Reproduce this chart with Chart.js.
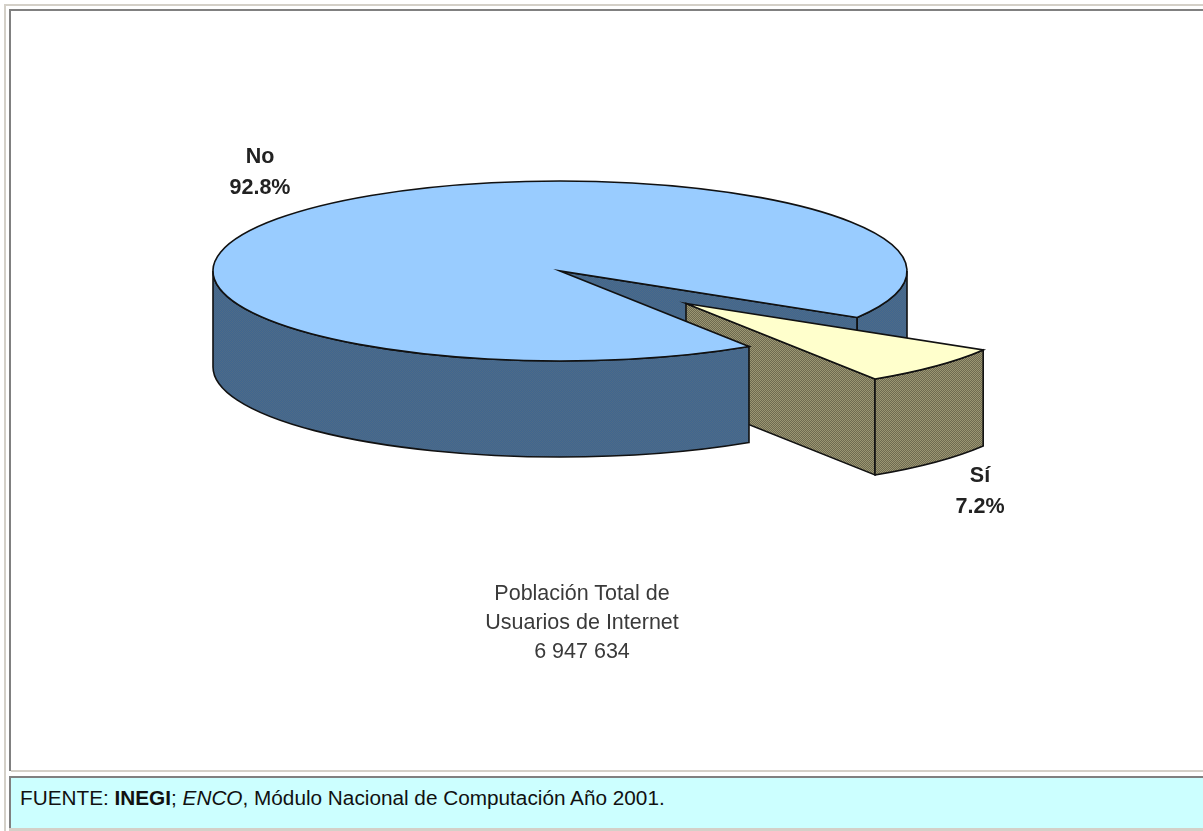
<!DOCTYPE html>
<html>
<head>
<meta charset="utf-8">
<script src="https://cdn.jsdelivr.net/npm/chart.js@4"></script>
<style>
    html, body { margin: 0; padding: 0; background: #fff; overflow: hidden; }
    body { width: 1203px; height: 831px; position: relative; font-family: "Liberation Sans", Arial, sans-serif; }
    .line { position: absolute; }
    #pie { position: absolute; left: 0; top: 0; }
    #caption { position: absolute; left: 432px; width: 300px; top: 579px; text-align: center; font-size: 21.5px; line-height: 29px; color: #3a3a3a; }
    #source { position: absolute; left: 11px; right: 0; top: 778px; height: 50px; background: #ccffff; font-size: 20.75px; line-height: 39px; color: #111; text-indent: 9px; }
</style>
</head>
<body>
<div class="line" style="left:4px;right:0;top:4px;height:2px;background:#d4d0c8"></div>
<div class="line" style="left:4px;top:4px;width:2px;bottom:0;background:#d4d0c8"></div>
<div class="line" style="left:9px;right:0;top:9px;height:2px;background:#808080"></div>
<div class="line" style="left:9px;top:9px;width:2px;height:762px;background:#808080"></div>
<div class="line" style="left:11px;right:0;top:770px;height:2px;background:#d4d0c8"></div>
<div class="line" style="left:9px;right:0;top:776px;height:2px;background:#808080"></div>
<div class="line" style="left:9px;top:776px;width:2px;height:52px;background:#808080"></div>
<div class="line" style="left:9px;right:0;top:828px;height:3px;background:#d4d0c8"></div>
<canvas id="pie" width="1203" height="831"></canvas>
<div id="caption">Población Total de<br>Usuarios de Internet<br>6 947 634</div>
<div id="source">FUENTE: <b>INEGI</b>; <i>ENCO</i>, Módulo Nacional de Computación Año 2001.</div>
<script>
const labels = ['No', 'Sí'];
const values = [92.8, 7.2];
const topColors = ['#99ccff', '#ffffcc'];

// how far each slice is pulled out of the pie, before flattening
const pullX = [0, 126];
const pullY = [0, 125];

const flatten = 0.2594;   // pie is drawn as an ellipse
const depth = 96;         // wall height in px
const labelX = [260, 980];
const labelY = [157, 476];

function dither(c1, c2) {
    const c = document.createElement('canvas');
    c.width = c.height = 2;
    const g = c.getContext('2d');
    g.fillStyle = c1;
    g.fillRect(0, 0, 2, 2);
    g.fillStyle = c2;
    g.fillRect(0, 0, 1, 1);
    g.fillRect(1, 1, 1, 1);
    return c;
}

const wallTextures = [dither('#3f6690', '#4f6b86'), dither('#6e6a50', '#9b9672')];

function squash(chart) {
    const ctx = chart.ctx;
    const cy = (chart.chartArea.top + chart.chartArea.bottom) / 2;
    ctx.translate(0, cy);
    ctx.scale(1, flatten);
    ctx.translate(0, -cy);
}

// Builds a path inside the flattened space, then strokes in normal space so lines stay 1px wide
function flatPath(chart, build) {
    const ctx = chart.ctx;
    ctx.save();
    squash(chart);
    ctx.beginPath();
    build(ctx);
    ctx.restore();
}

function paint(chart, i) {
    const ctx = chart.ctx;
    ctx.fillStyle = ctx.createPattern(wallTextures[i], 'repeat');
    ctx.fill();
    ctx.lineWidth = 1.6;
    ctx.strokeStyle = '#111';
    ctx.stroke();
}

function rimWall(chart, i, from, to) {
    const a = chart.getDatasetMeta(0).data[i];
    const d = depth / flatten;
    flatPath(chart, p => {
        p.arc(a.x, a.y, a.outerRadius, from, to);
        p.arc(a.x, a.y + d, a.outerRadius, to, from, true);
        p.closePath();
    });
    paint(chart, i);
}

function cutWall(chart, i, angle) {
    const a = chart.getDatasetMeta(0).data[i];
    const d = depth / flatten;
    const ex = a.x + Math.cos(angle) * a.outerRadius;
    const ey = a.y + Math.sin(angle) * a.outerRadius;
    flatPath(chart, p => {
        p.moveTo(a.x, a.y);
        p.lineTo(ex, ey);
        p.lineTo(ex, ey + d);
        p.lineTo(a.x, a.y + d);
        p.closePath();
    });
    paint(chart, i);
}

const pie3d = {
    id: 'pie3d',
    afterDatasetsUpdate(chart) {
        chart.getDatasetMeta(0).data.forEach((a, i) => {
            a.x += pullX[i];
            a.y += pullY[i];
        });
    },
    beforeDatasetsDraw(chart) {
        const [no, si] = chart.getDatasetMeta(0).data;
        cutWall(chart, 0, no.endAngle);
        rimWall(chart, 0, Math.PI * 2, no.endAngle);
        cutWall(chart, 1, si.endAngle);
        rimWall(chart, 1, si.startAngle, si.endAngle);
        rimWall(chart, 0, no.startAngle, Math.PI);
        // the library draws the slice tops inside the flattened space
        chart.ctx.save();
        squash(chart);
    },
    afterDatasetsDraw(chart) {
        const ctx = chart.ctx;
        ctx.restore();
        chart.getDatasetMeta(0).data.forEach(a => {
            flatPath(chart, p => {
                p.moveTo(a.x, a.y);
                p.arc(a.x, a.y, a.outerRadius, a.startAngle, a.endAngle);
                p.closePath();
            });
            ctx.lineWidth = 1.6;
            ctx.strokeStyle = '#111';
            ctx.stroke();
        });
        ctx.font = 'bold 21.5px "Liberation Sans", Arial, sans-serif';
        ctx.fillStyle = '#222';
        ctx.textAlign = 'center';
        ctx.textBaseline = 'middle';
        labels.forEach((l, i) => {
            ctx.fillText(l, labelX[i], labelY[i]);
            ctx.fillText(values[i].toFixed(1) + '%', labelX[i], labelY[i] + 31);
        });
    }
};

new Chart(document.getElementById('pie').getContext('2d'), {
    type: 'pie',
    plugins: [pie3d],
    data: {
        labels: labels,
        datasets: [{
            data: values,
            backgroundColor: topColors,
            borderWidth: 0
        }]
    },
    options: {
        responsive: false,
        animation: false,
        radius: 347,
        rotation: 147,
        layout: { padding: { right: 83, bottom: 289 } },
        plugins: {
            legend: { display: false },
            tooltip: { enabled: false }
        }
    }
});
</script>
</body>
</html>
